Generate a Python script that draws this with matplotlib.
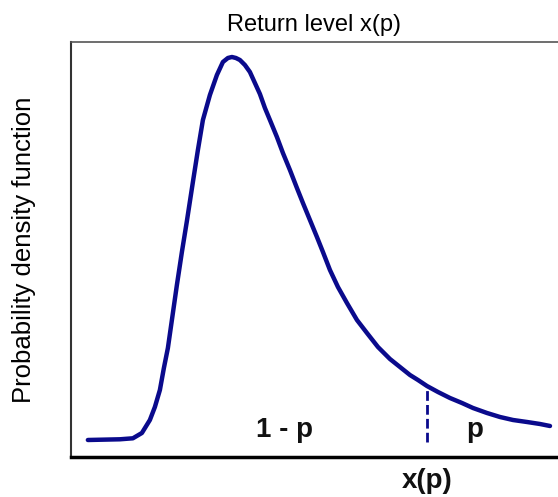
import numpy as np
import matplotlib
matplotlib.use("Agg")
import matplotlib.pyplot as plt

plt.rcParams['font.family'] = ['Liberation Sans', 'DejaVu Sans']

# Curve (arbitrary units)
x_vals = [1.7, 4.9, 6.2, 7.1, 7.9, 8.4, 8.9, 9.3, 9.7, 10.1, 10.6, 11.1, 11.6,
          12.2, 12.7, 13.2, 13.9, 14.6, 15.2, 15.7, 16.1, 16.5, 16.9, 17.4, 17.9,
          18.4, 18.9, 19.4, 19.9, 20.6, 21.2, 21.9, 22.6, 23.2, 23.9, 24.6, 25.2,
          25.9, 26.7, 27.6, 28.6, 29.6, 30.7, 31.9, 32.9, 33.9, 34.7, 35.6, 36.7,
          37.9, 39.1, 40.2, 41.6, 42.9, 44.2, 45.6, 46.9, 47.9]
pdf_vals = [1.7, 1.77, 1.87, 2.4, 3.7, 5.0, 6.7, 8.9, 10.9, 13.7, 17.2, 20.5, 23.6,
            27.5, 30.7, 33.7, 36.2, 38.2, 39.5, 39.9, 40.0, 39.9, 39.7, 39.2, 38.5,
            37.4, 36.3, 34.9, 33.7, 32.0, 30.4, 28.7, 26.9, 25.4, 23.7, 22.0, 20.5,
            18.7, 17.0, 15.4, 13.7, 12.4, 11.0, 9.8, 9.0, 8.2, 7.7, 7.1, 6.5,
            5.9, 5.4, 4.9, 4.4, 4.0, 3.7, 3.5, 3.3, 3.1]
x_p = 35.6          # return level x(p)
dash_bottom = 1.5

title = "Return level x(p)"
ylabel = "Probability density function"
left_label = "1 - p"
right_label = "p"
xp_label = "x(p)"

fig = plt.figure(figsize=(5.58, 4.97), dpi=100)
ax = fig.add_axes([0.127, 0.0805, 0.873, 0.835])

ax.plot(x_vals, pdf_vals, color='#0a0a8c', lw=3.2, solid_capstyle='round',
        solid_joinstyle='round')
top = np.interp(x_p, x_vals, pdf_vals)
ax.vlines(x_p, dash_bottom, top, colors='#0a0a8c', lw=2.0,
          linestyles=[(0, (3.5, 1.5))])

ax.text(21.4, 2.0, left_label, ha='center', va='baseline', fontsize=20,
        fontweight='bold', color='#111111')
ax.text(40.4, 2.0, right_label, ha='center', va='baseline', fontsize=20,
        fontweight='bold', color='#111111')
ax.text(x_p, -3.1, xp_label, ha='center', va='baseline', fontsize=20,
        fontweight='bold', color='#111111', clip_on=False)

ax.set_xlim(0, 48.7)
ax.set_ylim(0, 41.5)
ax.set_xticks([])
ax.set_yticks([])
ax.set_title(title, fontsize=17, pad=8)
ax.set_ylabel(ylabel, fontsize=18.5, labelpad=25)

ax.spines['right'].set_visible(False)
ax.spines['top'].set_color('#555555')
ax.spines['top'].set_linewidth(1.2)
ax.spines['left'].set_color('#333333')
ax.spines['left'].set_linewidth(1.5)
ax.spines['bottom'].set_color('black')
ax.spines['bottom'].set_linewidth(2.5)

fig.savefig('out.png', dpi=100)
